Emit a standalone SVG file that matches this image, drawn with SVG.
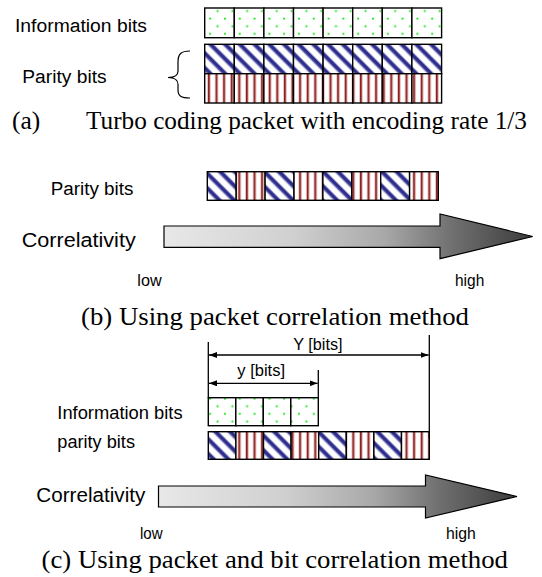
<svg xmlns="http://www.w3.org/2000/svg" width="542" height="577" viewBox="0 0 542 577">
  <defs>
    <style>
      .lbl { font-family: "Liberation Sans", Arial, sans-serif; fill: #000; }
      .cap { font-family: "Liberation Serif", "Times New Roman", serif; fill: #000; font-size: 25.5px; }
      .cell { stroke: #000; stroke-width: 1.4; }
      .info { fill: url(#dots); }
      .par1 { fill: url(#diag); }
      .par2 { fill: url(#vert); }
      .arrow { fill: url(#grad); stroke: #000; stroke-width: 1.2; }
      .dim { stroke: #000; stroke-width: 1.3; fill: none; }
    </style>
    <!-- sparse green dots for information bits -->
    <pattern id="dots" width="14.8" height="15.2" patternUnits="userSpaceOnUse">
      <rect width="14.8" height="15.2" fill="#fff"/>
      <circle cx="3" cy="3.5" r="1.1" fill="#22e622"/>
      <circle cx="10.4" cy="11.1" r="1.1" fill="#22e622"/>
    </pattern>
    <!-- navy diagonal stripes for first parity stream -->
    <pattern id="diag" width="10.4" height="10.4" patternUnits="userSpaceOnUse" patternTransform="rotate(-45)">
      <rect width="10.4" height="10.4" fill="#fff"/>
      <rect x="0.6" width="0.7" height="10.4" fill="#8a8ac4"/>
      <rect x="1.3" width="3.6" height="10.4" fill="#2e2e8e"/>
      <rect x="4.9" width="0.7" height="10.4" fill="#8a8ac4"/>
    </pattern>
    <!-- dark red vertical stripes for second parity stream -->
    <pattern id="vert" width="7.6" height="10" patternUnits="userSpaceOnUse">
      <rect width="7.6" height="10" fill="#fff"/>
      <rect x="2.6" width="2" height="10" fill="#8e1a1a"/>
      <rect x="4.6" width="0.7" height="10" fill="#d4a0a0"/>
    </pattern>
    <linearGradient id="grad" x1="0" y1="0" x2="1" y2="0">
      <stop offset="0" stop-color="#e8e8e8"/>
      <stop offset="0.35" stop-color="#d0d0d0"/>
      <stop offset="0.6" stop-color="#a8a8a8"/>
      <stop offset="0.78" stop-color="#707070"/>
      <stop offset="1" stop-color="#3c3c3c"/>
    </linearGradient>
    <marker id="ah" markerWidth="8" markerHeight="6" refX="8" refY="3" orient="auto-start-reverse" markerUnits="userSpaceOnUse">
      <path d="M0,0 L8,3 L0,6 z" fill="#000"/>
    </marker>
  </defs>

  <rect width="542" height="577" fill="#fff"/>

  <!-- (a) turbo coded packet -->
  <g id="a-info-label"><text class="lbl" x="15" y="31.7" font-size="18" textLength="132" lengthAdjust="spacingAndGlyphs">Information bits</text></g>
  <g id="a-parity-label"><text class="lbl" x="22.3" y="83.3" font-size="18" textLength="84.3" lengthAdjust="spacingAndGlyphs">Parity bits</text></g>
  <g id="a-brace"><path d="M190,51 C181,51 178,54 178,62 L178,71 C178,75.5 175,77.5 168,77.5 C175,77.5 178,80 178,84.5 L178,90 C178,96 181,98 190,98" fill="none" stroke="#000" stroke-width="1.2"/></g>
  <g id="a-info-row">
    <rect class="cell info" x="204.7" y="8" width="29.6" height="29.7"/>
    <rect class="cell info" x="234.3" y="8" width="29.6" height="29.7"/>
    <rect class="cell info" x="263.9" y="8" width="29.6" height="29.7"/>
    <rect class="cell info" x="293.5" y="8" width="29.6" height="29.7"/>
    <rect class="cell info" x="323.1" y="8" width="29.6" height="29.7"/>
    <rect class="cell info" x="352.7" y="8" width="29.6" height="29.7"/>
    <rect class="cell info" x="382.3" y="8" width="29.6" height="29.7"/>
    <rect class="cell info" x="411.9" y="8" width="29.7" height="29.7"/>
  </g>
  <g id="a-parity1-row">
    <rect class="cell par1" x="204.7" y="44.3" width="29.6" height="29.4"/>
    <rect class="cell par1" x="234.3" y="44.3" width="29.6" height="29.4"/>
    <rect class="cell par1" x="263.9" y="44.3" width="29.6" height="29.4"/>
    <rect class="cell par1" x="293.5" y="44.3" width="29.6" height="29.4"/>
    <rect class="cell par1" x="323.1" y="44.3" width="29.6" height="29.4"/>
    <rect class="cell par1" x="352.7" y="44.3" width="29.6" height="29.4"/>
    <rect class="cell par1" x="382.3" y="44.3" width="29.6" height="29.4"/>
    <rect class="cell par1" x="411.9" y="44.3" width="29.7" height="29.4"/>
  </g>
  <g id="a-parity2-row">
    <rect class="cell par2" x="204.7" y="73.7" width="29.6" height="29.3"/>
    <rect class="cell par2" x="234.3" y="73.7" width="29.6" height="29.3"/>
    <rect class="cell par2" x="263.9" y="73.7" width="29.6" height="29.3"/>
    <rect class="cell par2" x="293.5" y="73.7" width="29.6" height="29.3"/>
    <rect class="cell par2" x="323.1" y="73.7" width="29.6" height="29.3"/>
    <rect class="cell par2" x="352.7" y="73.7" width="29.6" height="29.3"/>
    <rect class="cell par2" x="382.3" y="73.7" width="29.6" height="29.3"/>
    <rect class="cell par2" x="411.9" y="73.7" width="29.7" height="29.3"/>
  </g>
  <g id="a-caption"><text class="cap" y="129.4"><tspan x="12">(a)</tspan><tspan x="86" textLength="441" lengthAdjust="spacingAndGlyphs">Turbo coding packet with encoding rate 1/3</tspan></text></g>

  <!-- (b) packet correlation -->
  <g id="b-parity-label"><text class="lbl" x="50.7" y="195" font-size="18" textLength="82.7" lengthAdjust="spacingAndGlyphs">Parity bits</text></g>
  <g id="b-parity-row">
    <rect class="cell par1" x="207.3" y="171.7" width="28.9" height="28.6"/>
    <rect class="cell par2" x="236.2" y="171.7" width="28.9" height="28.6"/>
    <rect class="cell par1" x="265.1" y="171.7" width="28.9" height="28.6"/>
    <rect class="cell par2" x="294" y="171.7" width="28.9" height="28.6"/>
    <rect class="cell par1" x="322.9" y="171.7" width="28.9" height="28.6"/>
    <rect class="cell par2" x="351.8" y="171.7" width="28.9" height="28.6"/>
    <rect class="cell par1" x="380.7" y="171.7" width="28.9" height="28.6"/>
    <rect class="cell par2" x="409.6" y="171.7" width="28.7" height="28.6"/>
  </g>
  <g id="b-corr-label"><text class="lbl" x="21.7" y="247.3" font-size="20.5" textLength="114" lengthAdjust="spacingAndGlyphs">Correlativity</text></g>
  <g id="b-arrow"><polygon class="arrow" points="164,226 440,226 440,214 532.7,236.5 440,258.7 440,247.3 164,247.3"/></g>
  <g id="b-low"><text class="lbl" x="137.3" y="286" font-size="16" textLength="24.3" lengthAdjust="spacingAndGlyphs">low</text></g>
  <g id="b-high"><text class="lbl" x="455" y="286" font-size="16" textLength="29.3" lengthAdjust="spacingAndGlyphs">high</text></g>
  <g id="b-caption"><text class="cap" x="81" y="324.6" textLength="388" lengthAdjust="spacingAndGlyphs">(b) Using packet correlation method</text></g>

  <!-- (c) packet and bit correlation -->
  <g id="c-Y-label"><text class="lbl" x="293.3" y="349.5" font-size="16" textLength="49.3" lengthAdjust="spacingAndGlyphs">Y [bits]</text></g>
  <g id="c-y-label"><text class="lbl" x="237.3" y="375.7" font-size="16" textLength="47.7" lengthAdjust="spacingAndGlyphs">y [bits]</text></g>
  <g id="c-info-label"><text class="lbl" x="57.3" y="419.3" font-size="17.5" textLength="125.3" lengthAdjust="spacingAndGlyphs">Information bits</text></g>
  <g id="c-parity-label"><text class="lbl" x="57.3" y="447.5" font-size="17.5" textLength="77.7" lengthAdjust="spacingAndGlyphs">parity bits</text></g>
  <g id="c-info-row">
    <rect class="cell info" x="208.3" y="397.7" width="27.5" height="28"/>
    <rect class="cell info" x="235.8" y="397.7" width="27.5" height="28"/>
    <rect class="cell info" x="263.3" y="397.7" width="27.5" height="28"/>
    <rect class="cell info" x="290.8" y="397.7" width="27.5" height="28"/>
  </g>
  <g id="c-parity-row">
    <rect class="cell par1" x="208.3" y="431.7" width="27.6" height="27.6"/>
    <rect class="cell par2" x="235.9" y="431.7" width="27.6" height="27.6"/>
    <rect class="cell par1" x="263.5" y="431.7" width="27.6" height="27.6"/>
    <rect class="cell par2" x="291.1" y="431.7" width="27.6" height="27.6"/>
    <rect class="cell par1" x="318.7" y="431.7" width="27.6" height="27.6"/>
    <rect class="cell par2" x="346.3" y="431.7" width="27.6" height="27.6"/>
    <rect class="cell par1" x="373.9" y="431.7" width="27.6" height="27.6"/>
    <rect class="cell par2" x="401.5" y="431.7" width="27.8" height="27.6"/>
  </g>
  <g id="connectors">
    <line class="dim" x1="208.3" y1="342" x2="208.3" y2="397.7"/>
    <line class="dim" x1="429.3" y1="335" x2="429.3" y2="438"/>
    <line class="dim" x1="318.3" y1="370" x2="318.3" y2="397.7"/>
    <line class="dim" x1="209" y1="355" x2="428.6" y2="355" marker-start="url(#ah)" marker-end="url(#ah)"/>
    <line class="dim" x1="209" y1="383.3" x2="317.6" y2="383.3" marker-start="url(#ah)" marker-end="url(#ah)"/>
  </g>
  <g id="c-corr-label"><text class="lbl" x="36.3" y="502.3" font-size="20" textLength="109" lengthAdjust="spacingAndGlyphs">Correlativity</text></g>
  <g id="c-arrow"><polygon class="arrow" points="158.5,486 425.5,486 425.5,475 517,496.5 425.5,518 425.5,507 158.5,507"/></g>
  <g id="c-low"><text class="lbl" x="140" y="538.6" font-size="16" textLength="22.6" lengthAdjust="spacingAndGlyphs">low</text></g>
  <g id="c-high"><text class="lbl" x="446" y="538.6" font-size="16" textLength="29.8" lengthAdjust="spacingAndGlyphs">high</text></g>
  <g id="c-caption"><text class="cap" x="41.5" y="568" textLength="466.5" lengthAdjust="spacingAndGlyphs">(c) Using packet and bit correlation method</text></g>
</svg>
